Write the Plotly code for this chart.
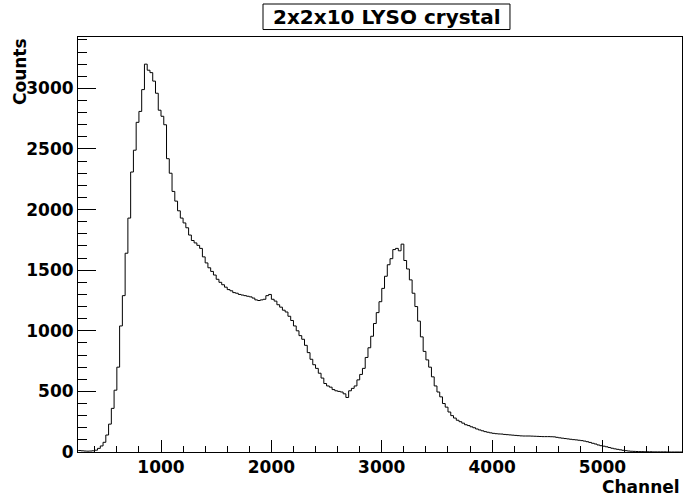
import numpy as np
import plotly.graph_objects as go

# Histogram: bin width 25 channels, first bin starts at channel 250
bin_start = 250
bin_width = 25
counts = [
    12, 10, 8, 7, 8, 10, 15, 30, 50, 80,
    140, 230, 360, 510, 700, 1040, 1290, 1640, 1930, 2310,
    2490, 2720, 2810, 2990, 3200, 3150, 3130, 3060, 2960, 2820,
    2770, 2700, 2420, 2300, 2150, 2070, 1990, 1930, 1890, 1850,
    1790, 1745, 1725, 1705, 1680, 1610, 1560, 1520, 1490, 1460,
    1425, 1400, 1380, 1360, 1340, 1330, 1315, 1310, 1300, 1295,
    1290, 1285, 1280, 1270, 1255, 1250, 1255, 1260, 1290, 1300,
    1260, 1245, 1215, 1195, 1170, 1155, 1120, 1085, 1040, 1000,
    960, 930, 880, 820, 765, 720, 690, 650, 610, 565,
    545, 535, 515, 505, 500, 495, 480, 450, 505, 525,
    545, 595, 640, 690, 780, 860, 955, 1060, 1150, 1240,
    1350, 1450, 1545, 1595, 1670, 1680, 1660, 1715, 1580, 1510,
    1420, 1310, 1200, 1080, 950, 830, 760, 700, 620, 545,
    495, 455, 400, 370, 330, 300, 280, 262, 250, 238,
    225, 218, 208, 200, 190, 182, 175, 168, 163, 158,
    154, 151, 149, 148, 145, 143, 141, 139, 137, 135,
    133, 132, 132, 132, 131, 130, 129, 128, 127, 127,
    127, 126, 125, 121, 117, 114, 111, 108, 105, 102,
    100, 97, 94, 90, 85, 79, 72, 66, 58, 52,
    48, 43, 37, 31, 26, 22, 18, 14, 11, 8,
    6, 5, 4, 3, 3, 2, 2, 2, 1, 1,
    1, 1, 1, 0, 0, 0, 0, 0, 0,
]

title_text = "2x2x10 LYSO crystal"
x_title = "Channel"
y_title = "Counts"
x_range = [248, 5720]
y_range = [0, 3424]
x_tickvals = [1000, 2000, 3000, 4000, 5000]
y_tickvals = [0, 500, 1000, 1500, 2000, 2500, 3000]

edges = bin_start + bin_width * np.arange(len(counts) + 1)
xs = list(edges)
ys = list(counts) + [counts[-1]]

FONT = "DejaVu Sans"

fig = go.Figure()
fig.add_trace(go.Scatter(
    x=xs, y=ys, mode="lines", line=dict(shape="hv", color="black", width=1),
    hoverinfo="skip", showlegend=False,
))

fig.update_layout(
    width=686, height=500,
    margin=dict(l=78, r=4, t=37, b=48),
    paper_bgcolor="white", plot_bgcolor="white",
    font=dict(family=FONT, color="black"),
)
fig.update_xaxes(
    range=x_range, showgrid=False, zeroline=False,
    showline=True, linecolor="black", linewidth=1, mirror=True,
    ticks="inside", ticklen=12, tickcolor="black", tickwidth=1,
    tickvals=x_tickvals, tickfont=dict(family=FONT, size=17, weight="bold"),
    minor=dict(dtick=200, ticks="inside", ticklen=6, tickcolor="black", tickwidth=1, showgrid=False),
)
fig.update_yaxes(
    range=y_range, showgrid=False, zeroline=False,
    showline=True, linecolor="black", linewidth=1, mirror=True,
    ticks="inside", ticklen=18, tickcolor="black", tickwidth=1,
    tickvals=y_tickvals, tickfont=dict(family=FONT, size=17, weight="bold"),
    minor=dict(dtick=100, ticks="inside", ticklen=9, tickcolor="black", tickwidth=1, showgrid=False),
)

# Title box (ROOT-style pave)
fig.add_shape(type="rect", xref="paper", yref="paper",
              x0=0.3063, x1=0.7152, y0=1.018, y1=1.0795,
              line=dict(color="black", width=1), fillcolor="white", layer="above")
fig.add_annotation(text=title_text, xref="paper", yref="paper",
                   x=0.5108, y=1.049, xanchor="center", yanchor="middle",
                   showarrow=False, font=dict(family=FONT, size=20, weight="bold"))
fig.add_annotation(text=x_title, xref="paper", yref="paper",
                   x=1.0, y=-0.0843, xanchor="right", yanchor="middle",
                   showarrow=False, font=dict(family=FONT, size=17, weight="bold"))
fig.add_annotation(text=y_title, xref="paper", yref="paper",
                   x=-0.096, y=0.9157, xanchor="center", yanchor="middle", textangle=-90,
                   showarrow=False, font=dict(family=FONT, size=17, weight="bold"))

fig.write_html("out.html")
